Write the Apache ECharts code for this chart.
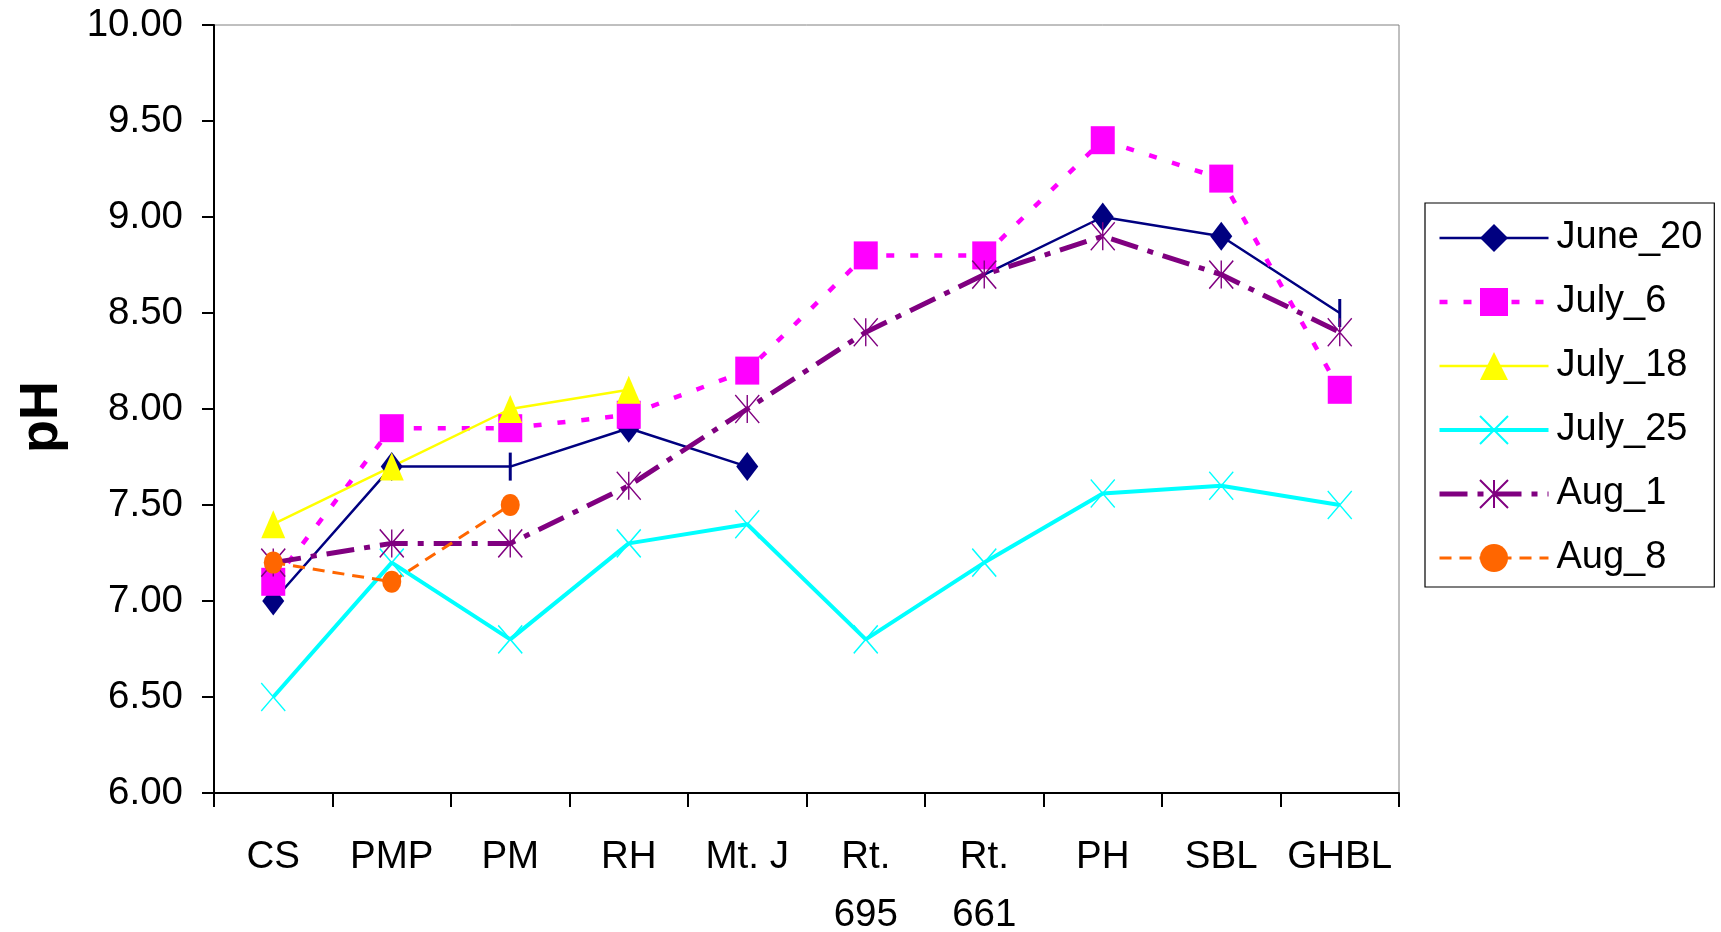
<!DOCTYPE html>
<html>
<head>
<meta charset="utf-8">
<script src="https://cdn.jsdelivr.net/npm/echarts@6/dist/echarts.min.js"></script>
<style>
html,body{margin:0;padding:0;background:#fff;}
#chart{width:1721px;height:932px;}
</style>
</head>
<body>
<div id="chart"></div>
<script>
var categories = ['CS', 'PMP', 'PM', 'RH', 'Mt. J', 'Rt.\n695', 'Rt.\n661', 'PH', 'SBL', 'GHBL'];
var june20 = [7.0, 7.7, 7.7, 7.9, 7.7, null, 8.7, 9.0, 8.9, 8.5];
var july6  = [7.1, 7.9, 7.9, 7.97, 8.2, 8.8, 8.8, 9.4, 9.2, 8.1];
var july18 = [7.4, 7.7, 8.0, 8.1, null, null, null, null, null, null];
var july25 = [6.5, 7.2, 6.8, 7.3, 7.4, 6.8, 7.2, 7.56, 7.6, 7.5];
var aug1   = [7.2, 7.3, 7.3, 7.6, 8.0, 8.4, 8.7, 8.9, 8.7, 8.4];
var aug8   = [7.2, 7.1, 7.5, null, null, null, null, null, null, null];
var seriesNames = ['June_20', 'July_6', 'July_18', 'July_25', 'Aug_1', 'Aug_8'];
var yTicks = { min: 6, max: 10, interval: 0.5 };

var FONT = "'Liberation Sans', Arial, sans-serif";
var chart = echarts.init(document.getElementById('chart'), null, { renderer: 'canvas' });

var juneData = june20.map(function (v, i) {
  if (i === 2 || i === 9) return { value: v, symbol: 'rect', symbolSize: [3, 28] };
  if (i === 6) return { value: v, symbol: 'none' };
  return v;
});

var asterisk = 'path://M0,0 L10,10 M10,0 L0,10 M5,0 L5,10';
var xcross = 'path://M0,0 L10,10 M10,0 L0,10';

var styles = {
  June_20: { color: '#000080', width: 2.5, type: 'solid' },
  July_6:  { color: '#FF00FF', width: 4.5, type: [8, 16] },
  July_18: { color: '#FFFF00', width: 2.5, type: 'solid' },
  July_25: { color: '#00FFFF', width: 4, type: 'solid' },
  Aug_1:   { color: '#800080', width: 5, type: [28, 10, 6, 10] },
  Aug_8:   { color: '#FF6600', width: 3, type: [12, 8] }
};

var option = {
  backgroundColor: '#ffffff',
  animation: false,
  textStyle: { fontFamily: FONT },
  grid: {
    left: 214, top: 25, width: 1185, height: 768,
    outerBoundsMode: 'none',
    containLabel: false,
    show: true, borderColor: '#808080', borderWidth: 1, backgroundColor: 'transparent'
  },
  legend: {
    orient: 'vertical',
    left: 1425, top: 203,
    padding: [16, 12, 10, 12],
    itemWidth: 109, itemHeight: 35, itemGap: 26,
    borderColor: '#000', borderWidth: 1.2,
    backgroundColor: '#fff',
    textStyle: { fontSize: 38, lineHeight: 35, color: '#000', fontFamily: FONT, padding: [0, 0, 0, 3] },
    data: seriesNames.map(function (n) {
      return { name: n, lineStyle: { color: styles[n].color, width: styles[n].width, type: styles[n].type } };
    })
  },
  xAxis: {
    type: 'category',
    data: categories,
    boundaryGap: true,
    axisLine: { show: true, lineStyle: { color: '#000', width: 2 } },
    axisTick: { show: true, length: 14, lineStyle: { color: '#000', width: 2 } },
    axisLabel: { fontSize: 38.5, color: '#000', fontFamily: FONT, margin: 35, lineHeight: 58, interval: 0 },
    splitLine: { show: false }
  },
  yAxis: {
    type: 'value',
    min: yTicks.min, max: yTicks.max, interval: yTicks.interval,
    name: 'pH',
    nameLocation: 'middle',
    nameGap: 145,
    nameTextStyle: { fontSize: 54, fontWeight: 'bold', color: '#000', fontFamily: FONT, padding: [0, 16, 0, 0] },
    axisLine: { show: true, lineStyle: { color: '#000', width: 2 } },
    axisTick: { show: true, length: 12, lineStyle: { color: '#000', width: 2 } },
    axisLabel: { fontSize: 38.5, color: '#000', fontFamily: FONT, margin: 31,
      formatter: function (v) { return v.toFixed(2); } },
    splitLine: { show: false }
  },
  series: [
    {
      name: 'June_20', type: 'line', data: juneData,
      symbol: 'diamond', symbolSize: [22, 29],
      itemStyle: { color: '#000080', borderWidth: 0 },
      lineStyle: styles.June_20,
      connectNulls: false
    },
    {
      name: 'July_6', type: 'line', data: july6,
      symbol: 'rect', symbolSize: [24, 28],
      itemStyle: { color: '#FF00FF', borderWidth: 0 },
      lineStyle: styles.July_6
    },
    {
      name: 'July_18', type: 'line', data: july18,
      symbol: 'triangle', symbolSize: [24, 28],
      itemStyle: { color: '#FFFF00', borderWidth: 0 },
      lineStyle: styles.July_18
    },
    {
      name: 'July_25', type: 'line', data: july25,
      symbol: xcross, symbolSize: [24, 28],
      itemStyle: { color: '#00FFFF', borderColor: '#00FFFF', borderWidth: 1.5 },
      lineStyle: styles.July_25
    },
    {
      name: 'Aug_1', type: 'line', data: aug1,
      symbol: asterisk, symbolSize: [24, 28],
      itemStyle: { color: '#800080', borderColor: '#800080', borderWidth: 1.5 },
      lineStyle: styles.Aug_1
    },
    {
      name: 'Aug_8', type: 'line', data: aug8,
      symbol: 'circle', symbolSize: [19, 22],
      itemStyle: { color: '#FF6600', borderWidth: 0 },
      lineStyle: styles.Aug_8
    }
  ]
};
chart.setOption(option);
</script>
</body>
</html>
